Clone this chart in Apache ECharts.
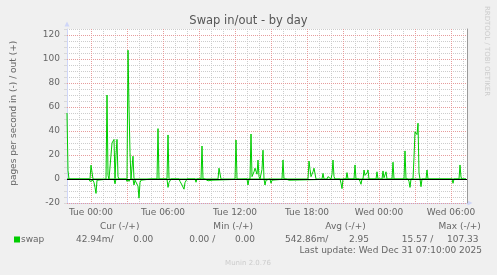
<!DOCTYPE html>
<html><head><meta charset="utf-8">
<script src="https://cdn.jsdelivr.net/npm/echarts@6/dist/echarts.min.js"></script>
<style>html,body{margin:0;padding:0;background:#F0F0F0;}#c{width:497px;height:275px;}</style>
</head><body><div id="c"></div>
<script>
// ---- data (times in minutes relative to Tue 00:00, 5-minute samples) ----
const chartTitle = 'Swap in/out - by day';
const yAxisTitle = 'pages per second in (-) / out (+)';
const xTickValues = [0, 360, 720, 1080, 1440, 1800];
const xTickLabels = ['Tue 00:00', 'Tue 06:00', 'Tue 12:00', 'Tue 18:00', 'Wed 00:00', 'Wed 06:00'];
const yTickValues = [-20, 0, 20, 40, 60, 80, 100, 120];
const seriesName = 'swap';

const outTimes = [-120, -115, -110, -5, 0, 5, 10, 75, 80, 85, 90, 100, 105, 110, 115, 120, 125, 130, 135, 140,
  180, 185, 190, 195, 200, 205, 210, 215, 330, 335, 340, 345, 350, 380, 385, 390, 505, 510, 515,
  550, 555, 560, 635, 640, 645, 650, 720, 725, 730,
  795, 800, 805, 810, 815, 820, 825, 830, 835, 840, 845, 850, 855, 860, 865,
  955, 960, 965, 1085, 1090, 1095, 1100, 1105, 1110, 1115, 1120, 1125,
  1155, 1160, 1165, 1180, 1185, 1190, 1195, 1200, 1205, 1210, 1215, 1220,
  1275, 1280, 1285, 1315, 1320, 1325, 1360, 1365, 1370, 1375, 1380, 1385, 1390,
  1425, 1430, 1435, 1455, 1460, 1465, 1470, 1475, 1480, 1505, 1510, 1515,
  1565, 1570, 1575, 1610, 1615, 1620, 1625, 1630, 1635, 1640, 1645,
  1675, 1680, 1685, 1840, 1845, 1850, 1855, 1875];
const outValues = [55, 7, 0, 0, 11.5, 11, 0, 0, 70, 3, 0, 0, 30, 31, 33, 0, 20, 33, 2, 0,
  0, 107.33, 60, 22, 0, 0, 19, 0, 0, 42, 0, 1, 0, 0, 36.7, 0, 0, 1, 0,
  0, 27.5, 0, 0, 9, 9.7, 0, 0, 32.5, 0,
  0, 37.5, 2, 2, 6, 9, 10, 4, 15.8, 2, 0, 0, 8, 24, 0,
  0, 15.8, 0, 0, 15, 8, 2, 4, 6, 9, 10.5, 0,
  0, 4.7, 0, 0, 2, 1, 3.5, 0, 4, 15.8, 2, 0,
  0, 5.3, 0, 0, 11.7, 0, 0, 7.5, 3, 3.5, 5, 7.5, 0,
  0, 6, 0, 0, 6.7, 1, 2, 6, 0, 0, 14, 0,
  0, 23.4, 0, 0, 18, 39.4, 38.5, 37, 46.5, 5, 0,
  0, 7.5, 0, 0, 11.7, 1.7, 0, 0];

const inTimes = [-120, -90, -85, -80, -10, -5, 0, 5, 10, 15, 20, 25, 30, 35, 90, 95, 100, 115, 120, 125,
  175, 180, 185, 190, 195, 210, 215, 220, 225, 230, 235, 240, 245, 250, 255, 300, 305, 310, 315,
  380, 385, 390, 395, 400, 440, 445, 450, 455, 460, 465, 470, 475, 480, 520, 525, 530,
  570, 575, 580, 585, 590, 595, 605, 610, 780, 785, 790, 865, 870, 875, 880, 895, 900, 905, 910,
  975, 980, 985, 990, 995, 1000, 1245, 1250, 1255, 1260, 1265, 1270, 1275, 1340, 1345, 1350, 1355,
  1585, 1590, 1595, 1600, 1645, 1650, 1655, 1750, 1755, 1760, 1805, 1810, 1815, 1875];
const inValues = [0, 0, 1.2, 0, 0, 2, 3.5, 3, 1, 3, 7, 12, 1, 0, 0, 1, 0, 0, 4, 0,
  0, 2, 0, 2, 0, 0, 5, 1, 2, 1, 6, 16, 3, 1, 0, 0, 1, 1, 0,
  0, 7, 3, 2, 0, 0, 2, 3.6, 5, 6, 8.5, 3, 2, 0, 0, 2.7, 0,
  0, 1, 0, 1.5, 1, 0, 1, 0, 0, 5, 0, 0, 5, 1, 0, 0, 3.5, 1, 0,
  0, 1, 1, 1, 1, 0, 0, 3.5, 8, 0, 0, 1, 0, 0, 2, 4.4, 0,
  0, 2, 7, 0, 0, 6.4, 0, 0, 1, 0, 0, 3.6, 0, 0];

const statHeaders = ['Cur (-/+)', 'Min (-/+)', 'Avg (-/+)', 'Max (-/+)'];
const statInTexts = ['42.94m/', '0.00 /', '542.86m/', '15.57 /'];
const statOutTexts = ['0.00', '0.00', '2.95', '107.33'];
const lastUpdateText = 'Last update: Wed Dec 31 07:10:00 2025';
const watermarkText = 'RRDTOOL / TOBI OETIKER';
const footerText = 'Munin 2.0.76';

// ---- chart ----
const FONT = '"DejaVu Sans", sans-serif';
const TXT = '#666666';
const MINOR = '#cccccc';
const MAJOR = '#e69c9c';
const AXIS = '#CFD6F8';
const GREEN = '#00CC00';

const outData = outTimes.map((t, i) => [t, outValues[i]]);
const inData = inTimes.map((t, i) => [t, -inValues[i]]);

const headerX = [119.7, 233.2, 345.5, 459.7];
const inX = [76, 189.3, 285, 401.7];
const outX = [133.3, 235, 349, 447];

const graphics = [];
graphics.push({type: 'text', x: 13.3, y: 113.3, rotation: Math.PI / 2,
  style: {text: yAxisTitle, font: '9px ' + FONT, fill: TXT, align: 'center', verticalAlign: 'middle'}});
graphics.push({type: 'text', x: 487.3, y: 51, rotation: -Math.PI / 2,
  style: {text: watermarkText, font: '7px ' + FONT, fill: '#cccccc', align: 'center', verticalAlign: 'middle'}});
statHeaders.forEach((h, i) => graphics.push({type: 'text', x: headerX[i], y: 227,
  style: {text: h, font: '9px ' + FONT, fill: TXT, align: 'center', verticalAlign: 'middle'}}));
statInTexts.forEach((h, i) => graphics.push({type: 'text', x: inX[i], y: 239.5,
  style: {text: h, font: '9px ' + FONT, fill: TXT, align: 'left', verticalAlign: 'middle'}}));
statOutTexts.forEach((h, i) => graphics.push({type: 'text', x: outX[i], y: 239.5,
  style: {text: h, font: '9px ' + FONT, fill: TXT, align: 'left', verticalAlign: 'middle'}}));
graphics.push({type: 'text', x: 482, y: 250.8,
  style: {text: lastUpdateText, font: '9px ' + FONT, fill: TXT, align: 'right', verticalAlign: 'middle'}});
graphics.push({type: 'text', x: 248, y: 262.8,
  style: {text: footerText, font: '7px ' + FONT, fill: '#cccccc', align: 'center', verticalAlign: 'middle'}});

const hidden = {axisLine: {show: false}, axisTick: {show: false}, axisLabel: {show: false}};

const chart = echarts.init(document.getElementById('c'), null, {renderer: 'canvas'});
chart.setOption({
  animation: false,
  backgroundColor: '#F0F0F0',
  textStyle: {fontFamily: FONT},
  title: {text: chartTitle, left: 'center', top: 14, padding: 0,
    textStyle: {fontSize: 11.5, fontWeight: 'normal', color: '#555555', fontFamily: FONT, lineHeight: 14}},
  legend: {data: [{name: seriesName, icon: 'rect'}], left: 14, top: 233.5, itemWidth: 6, itemHeight: 6,
    padding: 0, selectedMode: false,
    textStyle: {fontSize: 9, color: TXT, fontFamily: FONT, lineHeight: 12, padding: [0, 0, 0, -4]}},
  grid: [
    {left: 67, top: 29, width: 400, height: 174, show: true, backgroundColor: '#FFFFFF', borderWidth: 0},
    // helper grid (same plot, extended 1h to the left) so that 3-hour major lines start on a multiple
    {left: 55, top: 29, width: 412, height: 174, show: false}
  ],
  xAxis: [
    {type: 'value', gridIndex: 0, min: -120, max: 1880, interval: 60,
      axisLine: {show: true, onZero: false, lineStyle: {color: AXIS, width: 1},
        symbol: ['none', 'triangle'], symbolSize: [5, 5], symbolOffset: [0, 3]},
      axisTick: {show: false},
      axisLabel: {color: TXT, fontSize: 9, fontFamily: FONT, margin: 5,
        formatter: v => { const k = xTickValues.indexOf(v); return k >= 0 ? xTickLabels[k] : ''; }},
      splitLine: {show: true, lineStyle: {color: MINOR, width: 1, type: [1, 1]}}},
    Object.assign({type: 'value', gridIndex: 1, min: -180, max: 1880, interval: 180, z: 1,
      splitLine: {show: true, showMinLine: false, showMaxLine: false,
        lineStyle: {color: MAJOR, width: 1, type: [1, 1]}}}, hidden)
  ],
  yAxis: [
    {type: 'value', gridIndex: 0, min: -20, max: 125, interval: 5,
      axisLine: {show: true, onZero: false, lineStyle: {color: AXIS, width: 1},
        symbol: ['none', 'triangle'], symbolSize: [5, 5], symbolOffset: [0, 5]},
      axisTick: {show: true, length: 3, lineStyle: {color: '#d8d8d8'}},
      axisLabel: {color: TXT, fontSize: 9, fontFamily: FONT, margin: 7,
        formatter: v => yTickValues.indexOf(v) >= 0 ? String(v) : ''},
      splitLine: {show: true, lineStyle: {color: MINOR, width: 1, type: [1, 1]}}},
    {type: 'value', gridIndex: 0, position: 'right', min: -20, max: 125, interval: 20, z: 1,
      axisLine: {show: true, onZero: false, lineStyle: {color: '#9a9a9a', width: 1}},
      axisTick: {show: false}, axisLabel: {show: false},
      splitLine: {show: true, showMaxLine: false, lineStyle: {color: MAJOR, width: 1, type: [1, 1]}}},
    Object.assign({type: 'value', gridIndex: 1, min: -20, max: 125, splitLine: {show: false}}, hidden)
  ],
  graphic: graphics,
  series: [
    {name: seriesName, type: 'line', xAxisIndex: 0, yAxisIndex: 0, data: outData, showSymbol: false,
      color: GREEN, lineStyle: {color: GREEN, width: 1}, z: 2},
    {name: seriesName + ' in', type: 'line', xAxisIndex: 0, yAxisIndex: 0, data: inData, showSymbol: false,
      color: GREEN, lineStyle: {color: GREEN, width: 1}, z: 3,
      markLine: {silent: true, symbol: ['none', 'none'], label: {show: false},
        lineStyle: {color: '#000000', width: 1, type: 'solid'}, data: [{yAxis: 0}]}}
  ]
});
</script></body></html>
